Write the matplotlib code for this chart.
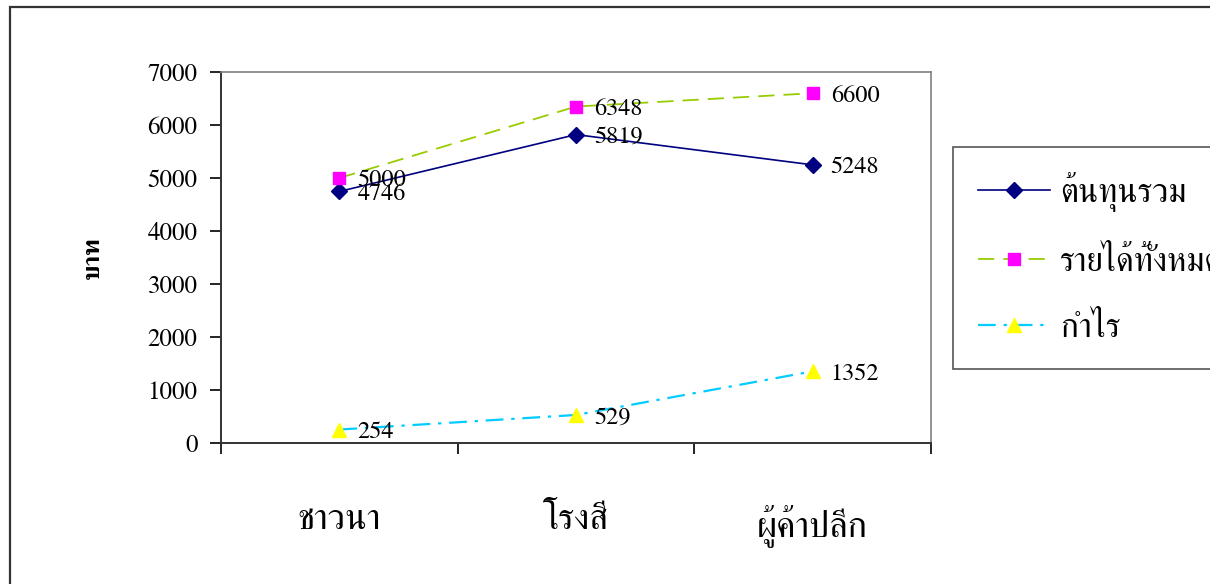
import matplotlib
matplotlib.use('Agg')
import matplotlib.pyplot as plt
from matplotlib.patches import Rectangle

plt.rcParams['font.family'] = ['FreeSerif', 'DejaVu Serif']

# data
categories = ['ชาวนา', 'โรงสี', 'ผู้ค้าปลีก']
total_cost = [4746, 5819, 5248]
total_income = [5000, 6348, 6600]
profit = [254, 529, 1352]
series_names = ['ต้นทุนรวม', 'รายได้ทั้งหมด', 'กำไร']

x = [1, 2, 3]

fig = plt.figure(figsize=(12.1, 5.84), dpi=100)
ax = fig.add_axes([221 / 1210, 1 - 443 / 584, 710 / 1210, 371 / 584])

# outer chart border
fig.patches.append(Rectangle((10 / 1210, -0.1), 1.2, 1.1 - 7 / 584, transform=fig.transFigure,
                             fill=False, edgecolor='#333333', linewidth=1.6))

ax.plot(x, total_cost, color='#000080', linewidth=1.2, marker='D', markersize=8,
        markerfacecolor='#000080', markeredgecolor='#000080', label=series_names[0])
ax.plot(x, total_income, color='#99CC00', linewidth=1.3, linestyle=(0, (9, 5)), marker='s', markersize=8,
        markerfacecolor='#FF00FF', markeredgecolor='#FF00FF', label=series_names[1])
ax.plot(x, profit, color='#00CCFF', linewidth=1.6, linestyle=(0, (8, 3.5, 1.5, 3.5)), marker='^', markersize=10,
        markerfacecolor='#FFFF00', markeredgecolor='#FFFF00', label=series_names[2])

# data labels
for series in (total_cost, total_income, profit):
    for xi, v in zip(x, series):
        ax.annotate(str(v), (xi, v), xytext=(13, -2), textcoords='offset points',
                    ha='left', va='center', fontsize=17.5)

ax.set_xlim(0.5, 3.5)
ax.set_ylim(0, 7000)
ax.set_yticks(range(0, 7001, 1000))
ax.set_yticklabels([str(v) for v in range(0, 7001, 1000)], fontsize=18)
ax.tick_params(axis='y', direction='out', length=8, width=1.2, pad=9)

ax.set_xticks([0.5, 1.5, 2.5, 3.5])
ax.set_xticklabels([])
ax.tick_params(axis='x', which='major', direction='out', length=8, width=1.2)
ax.set_xticks(x, minor=True)
ax.set_xticklabels(categories, minor=True, fontsize=26)
ax.tick_params(axis='x', which='minor', length=0, pad=44)

ax.set_ylabel('บาท', fontsize=18, fontweight='bold', labelpad=31)

for side in ('top', 'right'):
    ax.spines[side].set_color('#808080')
    ax.spines[side].set_linewidth(1.2)
for side in ('left', 'bottom'):
    ax.spines[side].set_color('#333333')
    ax.spines[side].set_linewidth(1.4)

leg = fig.legend(loc='upper left', bbox_to_anchor=(953 / 1210, 1 - 147 / 584), fontsize=24,
                 frameon=True, fancybox=False, framealpha=1, edgecolor='#555555',
                 handlelength=2.15, handletextpad=0.3, labelspacing=1.05, borderpad=0.75,
                 borderaxespad=0)
leg.get_frame().set_linewidth(1.2)

fig.savefig('out.png', dpi=100)
